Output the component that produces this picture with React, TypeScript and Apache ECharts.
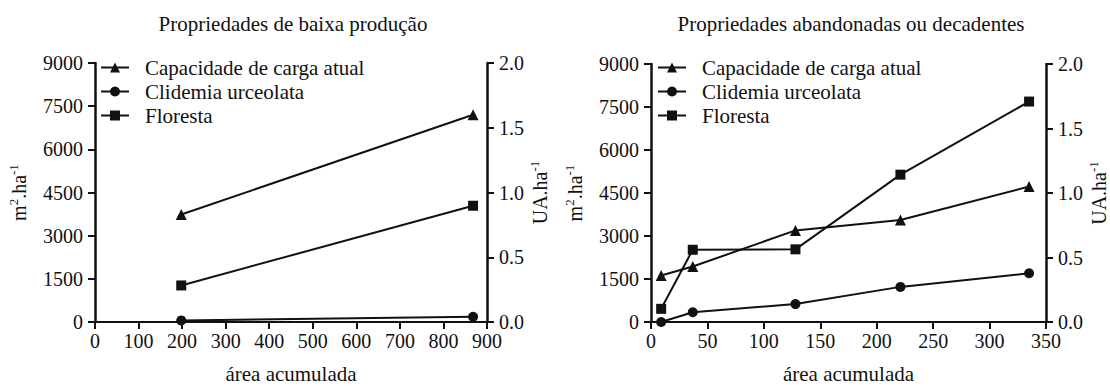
import React, { useEffect, useRef } from "react";
import * as echarts from "echarts";

const FONT = "Liberation Serif, Times New Roman, serif";
const INK = "#111";

const titles = ["Propriedades de baixa produção", "Propriedades abandonadas ou decadentes"];
const seriesNames = ["Capacidade de carga atual", "Clidemia urceolata", "Floresta"];
const seriesSymbols = ["triangle", "circle", "rect"];
const xAxisName = "área acumulada";

// Left panel: Propriedades de baixa produção
const leftX = [198, 868];
const leftCapacidade = [0.83, 1.6]; // UA.ha-1 (right axis)
const leftClidemia = [55, 182]; // m2.ha-1
const leftFloresta = [1270, 4040]; // m2.ha-1

// Right panel: Propriedades abandonadas ou decadentes
const rightX = [9, 37, 128, 221, 335];
const rightCapacidade = [0.36, 0.43, 0.71, 0.79, 1.05];
const rightClidemia = [0, 340, 625, 1225, 1700];
const rightFloresta = [460, 2520, 2535, 5140, 7690];

const leftXMax = 900;
const leftXInterval = 100;
const rightXMax = 350;
const rightXInterval = 50;
const m2Max = 9000;
const m2Interval = 1500;
const uaMax = 2.0;
const uaInterval = 0.5;

const zip = (xs: number[], ys: number[]) => xs.map((x, i) => [x, ys[i]]);

const axisLineStyle = { color: INK, width: 2.5 };
const serif = (size: number) => ({
  fontFamily: FONT,
  fontSize: size,
  fontWeight: "normal",
  color: INK,
});

function yAxes(gridIndex: number) {
  const nameStyle = {
    ...serif(20),
    rich: {
      a: serif(20),
      s: { ...serif(13), padding: [0, 0, 11, 0] },
    },
  };
  return [
    {
      type: "value",
      gridIndex,
      position: "left",
      min: 0,
      max: m2Max,
      interval: m2Interval,
      splitLine: { show: false },
      axisLine: { show: true, lineStyle: axisLineStyle },
      axisTick: { show: true, length: 7, lineStyle: { color: INK, width: 2 } },
      axisLabel: { ...serif(20), margin: 12, formatter: (v: number) => String(v) },
      name: "{a|m}{s|2}{a|.ha}{s|-1}",
      nameLocation: "middle",
      nameRotate: 90,
      nameGap: 64,
      nameTextStyle: nameStyle,
    },
    {
      type: "value",
      gridIndex,
      position: "right",
      min: 0,
      max: uaMax,
      interval: uaInterval,
      splitLine: { show: false },
      axisLine: { show: true, lineStyle: axisLineStyle },
      axisTick: { show: true, length: 7, lineStyle: { color: INK, width: 2 } },
      axisLabel: { ...serif(20), margin: 12, formatter: (v: number) => v.toFixed(1) },
      name: "{a|UA.ha}{s|-1}",
      nameLocation: "middle",
      nameRotate: 90,
      nameGap: 40,
      nameTextStyle: nameStyle,
    },
  ];
}

function xAxis(gridIndex: number, max: number, interval: number) {
  return {
    type: "value",
    gridIndex,
    min: 0,
    max,
    interval,
    splitLine: { show: false },
    axisLine: { show: true, onZero: false, lineStyle: { color: INK, width: 2 } },
    axisTick: { show: true, length: 7, lineStyle: { color: INK, width: 2 } },
    axisLabel: { ...serif(20), margin: 9, formatter: (v: number) => String(v) },
    name: xAxisName,
    nameLocation: "middle",
    nameGap: 41,
    nameTextStyle: serif(21),
  };
}

function lineSeries(name: string, symbol: string, data: number[][], xAxisIndex: number, yAxisIndex: number) {
  return {
    type: "line",
    name,
    data,
    xAxisIndex,
    yAxisIndex,
    symbol,
    symbolSize: symbol === "triangle" ? 11 : 10,
    lineStyle: { color: INK, width: 2 },
    itemStyle: { color: INK },
    z: 3,
  };
}

function legend(left: number) {
  return {
    orient: "vertical",
    left,
    top: 52,
    itemWidth: 28,
    itemHeight: 12.5,
    itemGap: 3,
    data: seriesNames,
    textStyle: { ...serif(21), lineHeight: 21, padding: [0, 0, 0, 11] },
    selectedMode: false,
  };
}

export default function App() {
  const ref = useRef<HTMLDivElement>(null);
  useEffect(() => {
    if (!ref.current) return;
    const chart = echarts.init(ref.current, undefined, { renderer: "svg" });
    const leftData = [leftCapacidade, leftClidemia, leftFloresta];
    const rightData = [rightCapacidade, rightClidemia, rightFloresta];
    const series: any[] = [];
    seriesNames.forEach((n, i) => {
      series.push(lineSeries(n, seriesSymbols[i], zip(leftX, leftData[i]), 0, i === 0 ? 1 : 0));
    });
    seriesNames.forEach((n, i) => {
      series.push(lineSeries(n, seriesSymbols[i], zip(rightX, rightData[i]), 1, i === 0 ? 3 : 2));
    });
    chart.setOption({
      animation: false,
      backgroundColor: "#fff",
      textStyle: { fontFamily: FONT, color: INK },
      title: [
        { text: titles[0], left: 288, top: 8, textAlign: "center", textStyle: serif(21) },
        { text: titles[1], left: 846, top: 8, textAlign: "center", textStyle: serif(21) },
      ],
      legend: [legend(95), legend(652)],
      grid: [
        { left: 95, top: 63, width: 392, height: 262, containLabel: false },
        { left: 651, top: 64, width: 395, height: 263, containLabel: false },
      ],
      xAxis: [xAxis(0, leftXMax, leftXInterval), xAxis(1, rightXMax, rightXInterval)],
      yAxis: [...yAxes(0), ...yAxes(1)],
      series,
    });
    return () => chart.dispose();
  }, []);
  return (
    <div
      ref={ref}
      style={{ position: "fixed", left: 0, top: 0, width: 1110, height: 389, background: "#fff" }}
    />
  );
}
